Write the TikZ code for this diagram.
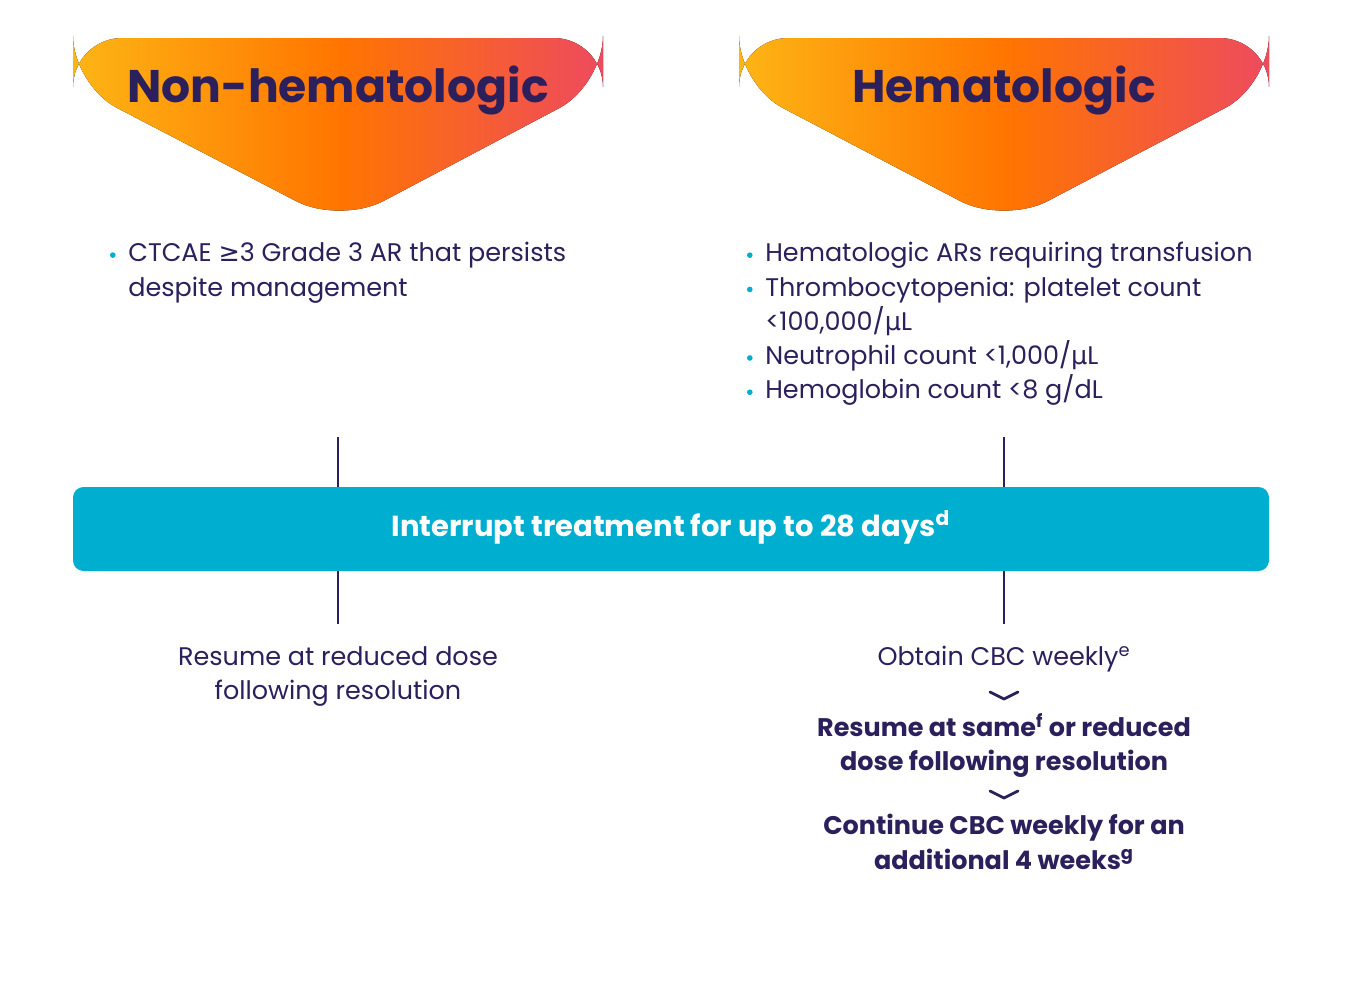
\documentclass[tikz,border=0pt]{standalone}
\usepackage{fontspec}
\setmainfont{Poppins}
\newfontfamily\symfont{DejaVu Sans}
\usetikzlibrary{positioning}
\definecolor{navy}{HTML}{2B1F5C}
\definecolor{teal}{HTML}{00AECF}
\definecolor{gold}{HTML}{FDB515}
\definecolor{coral}{HTML}{EE4A5E}
\tikzset{
  pennant/.style={left color=gold, right color=coral, middle color=orange!80!red!90!yellow, draw=none, rounded corners=28},
  headtxt/.style={text=navy, font=\bfseries\fontsize{26}{30}\selectfont},
  bodytxt/.style={text=navy, font=\fontsize{14.5}{19.5}\selectfont, align=left, anchor=north west, inner sep=0pt},
  steptxt/.style={text=navy, font=\fontsize{14.5}{19.5}\selectfont, align=center, inner sep=0pt},
  tick/.style={navy, line width=1.6pt},
  chev/.style={navy, line width=1.6pt, line cap=round, line join=round},
}
\newcommand{\bul}{\makebox[0pt][r]{\textcolor{teal}{\raisebox{0.15em}{\tikz\fill circle (1.6pt);}}\hspace{0.5em}}}
\begin{document}
\begin{tikzpicture}[x=0.02cm,y=-0.02cm]
\useasboundingbox (0,0) rectangle (1346,988);
% pennants
\fill[pennant] (73,38) -- (603,38) -- (603,85) -- (340,224) -- (73,85) -- cycle;
\fill[pennant] (739,38) -- (1269,38) -- (1269,85) -- (1004,224) -- (739,85) -- cycle;
\node[headtxt] (nonhem) at (338,90) {Non-hematologic};
\node[headtxt] (hem) at (1004,90) {Hematologic};
% criteria
\node[bodytxt] (crit1) at (128,242) {\bul CTCAE {\symfont ≥}3 Grade 3 AR that persists\\despite management};
\node[bodytxt] (crit2) at (765,242) {\bul Hematologic ARs requiring transfusion\\
\bul Thrombocytopenia: platelet count\\<100,000/{\symfont μ}L\\
\bul Neutrophil count <1,000/{\symfont μ}L\\
\bul Hemoglobin count <8 g/dL};
% bar
\fill[teal, rounded corners=6] (73,487) rectangle (1269,571);
\node[text=white, font=\bfseries\fontsize{16.5}{20}\selectfont] (bar) at (671,527) {Interrupt treatment for up to 28 days\textsuperscript{d}};
\foreach \x in {338,1004} {
  \draw[tick] (\x,437) -- (\x,487);
  \draw[tick] (\x,571) -- (\x,624);
}
% outcomes
\node[steptxt, anchor=north] (res1) at (338,646) {Resume at reduced dose\\following resolution};
\node[steptxt, anchor=north] (cbc) at (1004,646) {Obtain CBC weekly\textsuperscript{e}};
\node[steptxt, anchor=north, font=\bfseries\fontsize{14.5}{19.5}\selectfont] (res2) at (1004,713) {Resume at same\textsuperscript{f} or reduced\\dose following resolution};
\node[steptxt, anchor=north, font=\bfseries\fontsize{14.5}{19.5}\selectfont] (cont) at (1004,814) {Continue CBC weekly for an\\additional 4 weeks\textsuperscript{g}};
\foreach \y in {692,791}
  \draw[chev] (990,\y) -- (1004,\y+7) -- (1018,\y);
\end{tikzpicture}
\end{document}
